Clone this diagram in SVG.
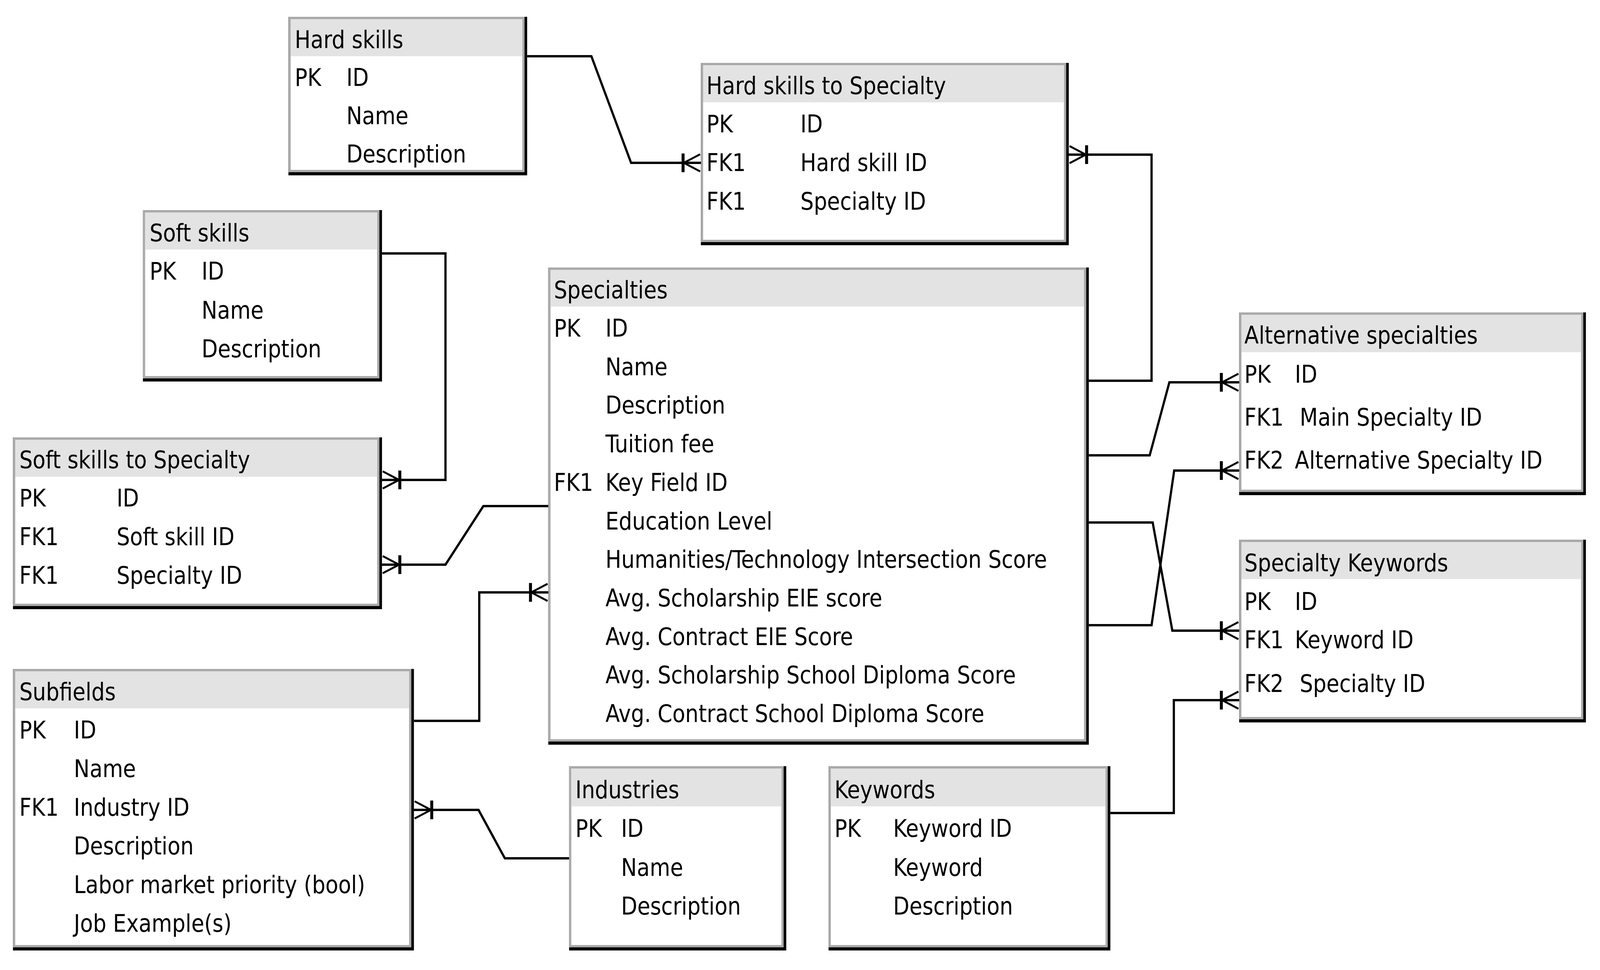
<svg xmlns="http://www.w3.org/2000/svg" width="4310" height="2484" viewBox="0 0 4310 2484" preserveAspectRatio="none" style="width:100%;height:100%;display:block">
<style>
.sh{fill:#000}
.bd{fill:#aaaaaa}
.bg{fill:#fff}
.hd{fill:#e3e3e3}
text{font-family:"DejaVu Sans Condensed","DejaVu Sans",sans-serif;font-stretch:condensed;font-size:63px;fill:#000}
.ln{fill:none;stroke:#000;stroke-width:6;stroke-linejoin:miter}
.cfb{stroke:#000;stroke-width:8;fill:none}
.cfp{stroke:#000;stroke-width:5;fill:none}
</style>
<defs>
<g id="cf">
<line class="cfb" x1="-48" y1="-24" x2="-48" y2="24"/>
<path class="cfp" d="M-46,0 L-2,-22 M-46,0 L-2,22 M-46,0 L0,0"/>
</g>
</defs>
<rect width="4310" height="2484" fill="#fff"/>

<g id="hard-skills">
<rect class="sh" x="777" y="43" width="643" height="406"/>
<rect class="bd" x="777" y="43" width="636" height="398"/>
<rect class="bg" x="783" y="49" width="624" height="386"/>
<rect class="hd" x="783" y="49" width="624" height="95"/>
<text x="794" y="123">Hard skills</text>
<text x="794" y="220">PK</text><text x="933" y="220">ID</text>
<text x="933" y="318">Name</text>
<text x="933" y="416">Description</text>
</g>

<g id="hard-skills-to-specialty">
<rect class="sh" x="1888" y="161" width="991" height="467"/>
<rect class="bd" x="1888" y="161" width="984" height="459"/>
<rect class="bg" x="1894" y="167" width="972" height="447"/>
<rect class="hd" x="1894" y="167" width="972" height="95"/>
<text x="1903" y="241">Hard skills to Specialty</text>
<text x="1903" y="339">PK</text><text x="2156" y="339">ID</text>
<text x="1903" y="438">FK1</text><text x="2156" y="438">Hard skill ID</text>
<text x="1903" y="537">FK1</text><text x="2156" y="537">Specialty ID</text>
</g>

<g id="soft-skills">
<rect class="sh" x="385" y="538" width="644" height="439"/>
<rect class="bd" x="385" y="538" width="637" height="431"/>
<rect class="bg" x="391" y="544" width="625" height="419"/>
<rect class="hd" x="391" y="544" width="625" height="95"/>
<text x="403" y="618">Soft skills</text>
<text x="403" y="716">PK</text><text x="543" y="716">ID</text>
<text x="543" y="816">Name</text>
<text x="543" y="915">Description</text>
</g>

<g id="soft-skills-to-specialty">
<rect class="sh" x="35" y="1120" width="994" height="440"/>
<rect class="bd" x="35" y="1120" width="987" height="432"/>
<rect class="bg" x="41" y="1126" width="975" height="420"/>
<rect class="hd" x="41" y="1126" width="975" height="95"/>
<text x="52" y="1199">Soft skills to Specialty</text>
<text x="52" y="1297">PK</text><text x="314" y="1297">ID</text>
<text x="52" y="1396">FK1</text><text x="314" y="1396">Soft skill ID</text>
<text x="52" y="1495">FK1</text><text x="314" y="1495">Specialty ID</text>
</g>

<g id="subfields">
<rect class="sh" x="35" y="1713" width="1080" height="721"/>
<rect class="bd" x="35" y="1713" width="1073" height="713"/>
<rect class="bg" x="41" y="1719" width="1061" height="701"/>
<rect class="hd" x="41" y="1719" width="1061" height="95"/>
<text x="52" y="1793">Subfields</text>
<text x="52" y="1891">PK</text><text x="199" y="1891">ID</text>
<text x="199" y="1990">Name</text>
<text x="52" y="2089">FK1</text><text x="199" y="2089">Industry ID</text>
<text x="199" y="2188">Description</text>
<text x="199" y="2287">Labor market priority (bool)</text>
<text x="199" y="2386">Job Example(s)</text>
</g>

<g id="specialties">
<rect class="sh" x="1477" y="685" width="1456" height="1222"/>
<rect class="bd" x="1477" y="685" width="1449" height="1214"/>
<rect class="bg" x="1483" y="691" width="1437" height="1202"/>
<rect class="hd" x="1483" y="691" width="1437" height="94"/>
<text x="1492" y="764">Specialties</text>
<text x="1492" y="862">PK</text><text x="1631" y="862">ID</text>
<text x="1631" y="961">Name</text>
<text x="1631" y="1059">Description</text>
<text x="1631" y="1158">Tuition fee</text>
<text x="1492" y="1257">FK1</text><text x="1631" y="1257">Key Field ID</text>
<text x="1631" y="1356">Education Level</text>
<text x="1631" y="1454">Humanities/Technology Intersection Score</text>
<text x="1631" y="1553">Avg. Scholarship EIE score</text>
<text x="1631" y="1652">Avg. Contract EIE Score</text>
<text x="1631" y="1750">Avg. Scholarship School Diploma Score</text>
<text x="1631" y="1849">Avg. Contract School Diploma Score</text>
</g>

<g id="industries">
<rect class="sh" x="1533" y="1962" width="585" height="472"/>
<rect class="bd" x="1533" y="1962" width="578" height="464"/>
<rect class="bg" x="1539" y="1968" width="566" height="452"/>
<rect class="hd" x="1539" y="1968" width="566" height="97"/>
<text x="1550" y="2044">Industries</text>
<text x="1550" y="2143">PK</text><text x="1673" y="2143">ID</text>
<text x="1673" y="2243">Name</text>
<text x="1673" y="2342">Description</text>
</g>

<g id="keywords">
<rect class="sh" x="2232" y="1962" width="759" height="472"/>
<rect class="bd" x="2232" y="1962" width="752" height="464"/>
<rect class="bg" x="2238" y="1968" width="740" height="452"/>
<rect class="hd" x="2238" y="1968" width="740" height="97"/>
<text x="2248" y="2044">Keywords</text>
<text x="2248" y="2143">PK</text><text x="2406" y="2143">Keyword ID</text>
<text x="2406" y="2243">Keyword</text>
<text x="2406" y="2342">Description</text>
</g>

<g id="alternative-specialties">
<rect class="sh" x="3338" y="800" width="934" height="468"/>
<rect class="bd" x="3338" y="800" width="927" height="460"/>
<rect class="bg" x="3344" y="806" width="915" height="448"/>
<rect class="hd" x="3344" y="806" width="915" height="96"/>
<text x="3352" y="880">Alternative specialties</text>
<text x="3352" y="980">PK</text><text x="3488" y="980">ID</text>
<text x="3352" y="1090">FK1</text><text x="3501" y="1090">Main Specialty ID</text>
<text x="3352" y="1200">FK2</text><text x="3488" y="1200">Alternative Specialty ID</text>
</g>

<g id="specialty-keywords">
<rect class="sh" x="3338" y="1382" width="934" height="468"/>
<rect class="bd" x="3338" y="1382" width="927" height="460"/>
<rect class="bg" x="3344" y="1388" width="915" height="448"/>
<rect class="hd" x="3344" y="1388" width="915" height="95"/>
<text x="3352" y="1463">Specialty Keywords</text>
<text x="3352" y="1562">PK</text><text x="3488" y="1562">ID</text>
<text x="3352" y="1660">FK1</text><text x="3488" y="1660">Keyword ID</text>
<text x="3352" y="1772">FK2</text><text x="3501" y="1772">Specialty ID</text>
</g>

<g id="connectors">
<path class="ln" d="M1420,144 L1593,144 L1700,417 L1888,417"/>
<use href="#cf" transform="translate(1888,417)"/>
<path class="ln" d="M1029,649 L1200,649 L1200,1229 L1029,1229"/>
<use href="#cf" transform="translate(1029,1229) scale(-1,1)"/>
<path class="ln" d="M1477,1296 L1302,1296 L1200,1446 L1029,1446"/>
<use href="#cf" transform="translate(1029,1446) scale(-1,1)"/>
<path class="ln" d="M1115,1846 L1291,1846 L1291,1517 L1477,1517"/>
<use href="#cf" transform="translate(1477,1517)"/>
<path class="ln" d="M1533,2198 L1360,2198 L1289,2074 L1115,2074"/>
<use href="#cf" transform="translate(1115,2074) scale(-1,1)"/>
<path class="ln" d="M2933,975 L3102,975 L3102,396 L2879,396"/>
<use href="#cf" transform="translate(2879,396) scale(-1,1)"/>
<path class="ln" d="M2933,1166 L3097,1166 L3150,979 L3338,979"/>
<use href="#cf" transform="translate(3338,979)"/>
<path class="ln" d="M2933,1338 L3105,1338 L3158,1615 L3338,1615"/>
<use href="#cf" transform="translate(3338,1615)"/>
<path class="ln" d="M2933,1601 L3102,1601 L3163,1205 L3338,1205"/>
<use href="#cf" transform="translate(3338,1205)"/>
<path class="ln" d="M2991,2082 L3162,2082 L3162,1793 L3338,1793"/>
<use href="#cf" transform="translate(3338,1793)"/>
</g>
</svg>
